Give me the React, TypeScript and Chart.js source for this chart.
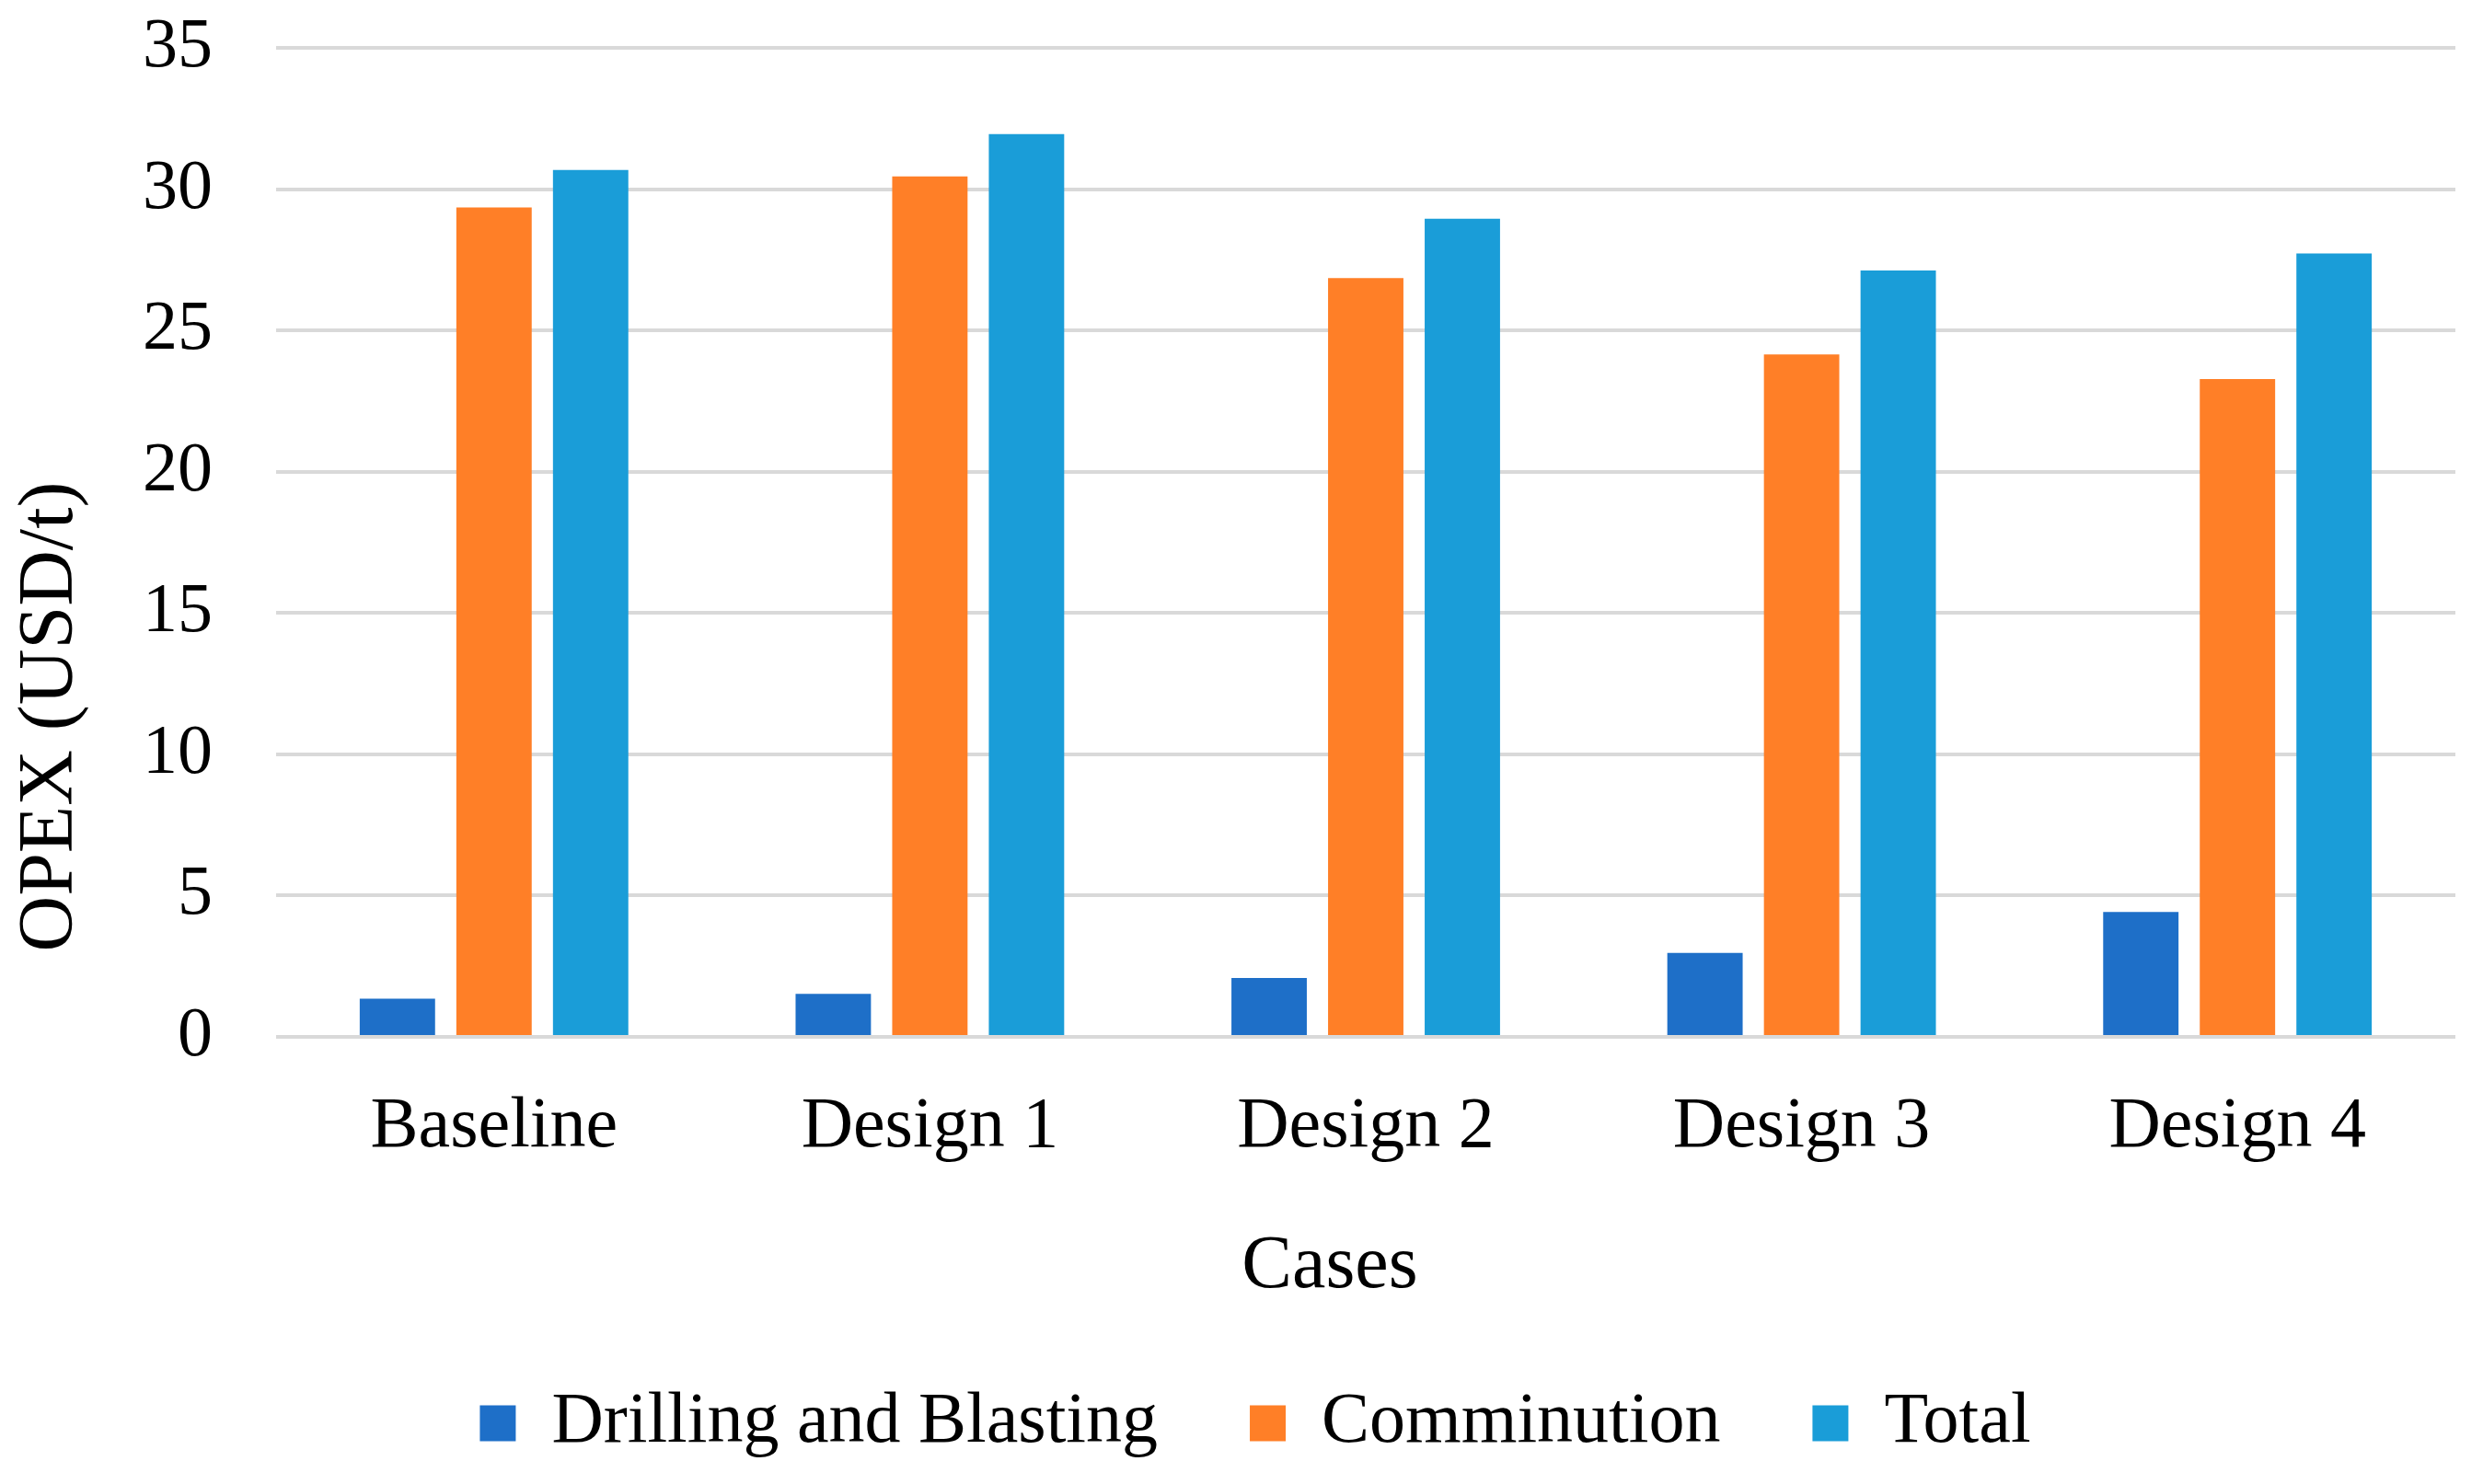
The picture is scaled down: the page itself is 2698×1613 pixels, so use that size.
import React, { useEffect, useRef } from "react";
import { Chart, registerables } from "chart.js";

Chart.register(...registerables);

// ---- Data ----
const categories = ["Baseline", "Design 1", "Design 2", "Design 3", "Design 4"];
const drillingBlasting = [1.35, 1.52, 2.08, 2.97, 4.42];
const comminution = [29.35, 30.45, 26.85, 24.15, 23.28];
const total = [30.68, 31.95, 28.95, 27.12, 27.72];
const seriesNames = ["Drilling and Blasting", "Comminution", "Total"];
const seriesColors = ["#1E6FC8", "#FF7F27", "#1A9DD8"];
const yMin = 0;
const yMax = 35;
const yStep = 5;
const yAxisTitle = "OPEX (USD/t)";
const xAxisTitle = "Cases";

const FONT = "'Liberation Serif', 'Times New Roman', serif";
const W = 2698;
const H = 1613;

const axisTitlesPlugin = {
  id: "axisTitles",
  afterDraw(chart: any) {
    const ctx = chart.ctx;
    const area = chart.chartArea;
    ctx.save();
    ctx.fillStyle = "#000";
    ctx.textAlign = "center";
    ctx.textBaseline = "alphabetic";
    // y-axis title (rotated)
    ctx.font = `84px ${FONT}`;
    ctx.translate(78, 779);
    ctx.rotate(-Math.PI / 2);
    ctx.fillText(yAxisTitle, 0, 0);
    ctx.restore();
    // x-axis title
    ctx.save();
    ctx.fillStyle = "#000";
    ctx.textAlign = "center";
    ctx.textBaseline = "alphabetic";
    ctx.font = `82px ${FONT}`;
    ctx.fillText(xAxisTitle, (area.left + area.right) / 2 - 39, 1399);
    ctx.restore();
  },
};

export default function App() {
  const canvasRef = useRef<HTMLCanvasElement | null>(null);

  useEffect(() => {
    document.body.style.margin = "0";
    const canvas = canvasRef.current;
    if (!canvas) return;
    const data = [drillingBlasting, comminution, total];
    const chart = new Chart(canvas, {
      type: "bar",
      data: {
        labels: categories,
        datasets: seriesNames.map((name, i) => ({
          label: name,
          data: data[i],
          backgroundColor: seriesColors[i],
          borderWidth: 0,
          barPercentage: 0.78,
          categoryPercentage: 0.665,
        })),
      },
      options: {
        responsive: false,
        animation: false,
        devicePixelRatio: 1,
        layout: { padding: { left: 60, right: 30, top: 52, bottom: 17 } },
        plugins: {
          legend: {
            position: "bottom",
            labels: {
              boxWidth: 39,
              boxHeight: 39,
              padding: 100,
              color: "#000",
              font: { family: FONT, size: 78 },
            },
          },
          tooltip: { enabled: false },
          title: { display: false },
        },
        scales: {
          x: {
            grid: { display: false },
            border: { display: false },
            ticks: {
              color: "#000",
              font: { family: FONT, size: 78 },
              padding: 44,
            },
            afterFit: (s: any) => {
              s.height = 281;
            },
          },
          y: {
            min: yMin,
            max: yMax,
            ticks: {
              stepSize: yStep,
              color: "#000",
              font: { family: FONT, size: 76 },
              padding: 69,
            },
            grid: { color: "#D9D9D9", lineWidth: 4, drawTicks: false },
            border: { display: false },
            afterFit: (s: any) => {
              s.width = 240;
              s.paddingTop = 0;
              s.paddingBottom = 0;
            },
          },
        },
      },
      plugins: [axisTitlesPlugin],
    });
    return () => chart.destroy();
  }, []);

  return (
    <div style={{ width: W, height: H, background: "#fff" }}>
      <canvas ref={canvasRef} width={W} height={H} style={{ display: "block", width: W, height: H }} />
    </div>
  );
}
